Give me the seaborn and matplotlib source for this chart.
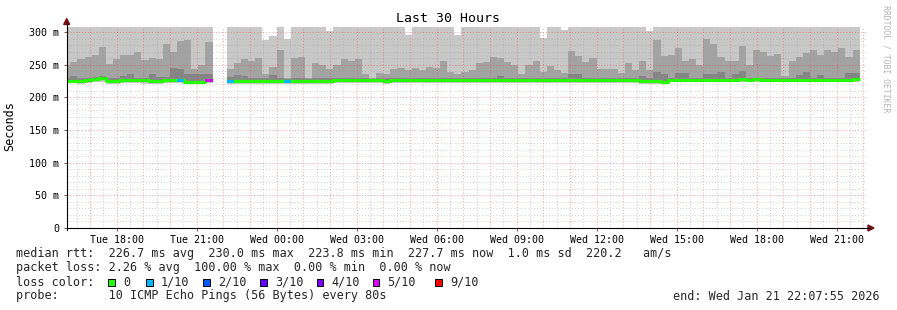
import numpy as np
import pandas as pd
import matplotlib
matplotlib.use("Agg")
import matplotlib.pyplot as plt
import matplotlib.dates as mdates
import seaborn as sns
from matplotlib.patches import Rectangle, Polygon
from matplotlib.lines import Line2D

# ---------------- data ----------------
nan = np.nan
bin_start = pd.date_range("2026-01-20 16:00", periods=112, freq="16min")
bin_minutes = 16
t_end = pd.Timestamp("2026-01-21 22:07:55")
t_start = t_end - pd.Timedelta(hours=30)

median_ms = [
    225.5, 225.5, 225.5, 227.0, 228.5, 229.8, 225.0, 225.0, 226.0, 226.0,
    226.0, 226.0, 225.0, 225.0, 226.5, 226.5, 226.0, 223.5, 223.5, 223.5,
    226.5, nan, nan, 224.5, 225.5, 225.5, 225.0, 225.5, 225.5, 225.5,
    225.5, 225.0, 225.5, 225.5, 225.5, 225.0, 225.5, 225.5, 226.0, 226.0,
    226.0, 226.0, 226.5, 226.5, 226.0, 225.5, 226.0, 226.0, 226.0, 226.0,
    226.0, 226.0, 226.0, 226.0, 226.5, 226.5, 226.0, 226.5, 226.5, 226.5,
    226.5, 226.5, 226.5, 226.5, 226.5, 226.5, 226.5, 226.5, 226.5, 226.5,
    226.5, 226.5, 226.5, 226.5, 226.5, 226.5, 226.5, 226.5, 226.5, 226.5,
    226.0, 224.5, 224.5, 224.5, 223.8, 227.0, 227.0, 227.0, 227.0, 227.0,
    227.0, 227.0, 227.0, 227.0, 227.0, 227.5, 227.0, 228.2, 227.0, 227.0,
    227.0, 227.0, 227.0, 227.0, 227.0, 227.0, 227.0, 227.0, 227.0, 227.0,
    227.0, 227.7,
]

loss_tenths = [0] * 112
for k, v in {16: 1, 20: 5, 21: 10, 22: 10, 23: 1, 31: 1}.items():
    loss_tenths[k] = v

mid_top_ms = [
    250, 254, 258, 262, 265, 277, 251, 259, 265, 265,
    270, 257, 260, 258, 281, 269, 286, 288, 244, 249,
    285, nan, nan, 244, 252, 258, 255, 260, 236, 246,
    273, 230, 260, 262, 230, 252, 249, 244, 249, 259,
    256, 259, 236, 229, 238, 235, 244, 245, 242, 245,
    242, 246, 245, 256, 239, 236, 239, 242, 252, 254,
    262, 260, 254, 250, 235, 250, 256, 239, 248, 242,
    237, 271, 264, 254, 260, 244, 244, 244, 238, 252,
    242, 256, 242, 288, 264, 265, 276, 256, 258, 250,
    289, 281, 262, 256, 256, 279, 249, 272, 269, 264,
    266, 233, 256, 262, 268, 272, 265, 272, 269, 276,
    262, 272,
]

light_top_ms = [315] * 112
for k, v in {21: nan, 22: nan, 28: 287, 29: 294, 31: 289, 37: 301, 48: 296,
             55: 296, 67: 291, 70: 303, 82: 302}.items():
    light_top_ms[k] = v

dark_top_ms = [
    229, 233, 229, 230, 231, 232, 229, 229, 233, 236,
    230, 229, 236, 231, 231, 245, 243, 236, 236, 236,
    236, nan, nan, 231, 234, 232, 229, 229, 229, 234,
    229, 228, 230, 230, 228, 230, 229, 229, 229, 230,
    230, 230, 229, 228, 229, 229, 229, 229, 229, 229,
    229, 229, 229, 230, 229, 229, 229, 229, 229, 229,
    229, 232, 229, 230, 229, 229, 229, 229, 229, 229,
    229, 235, 235, 229, 229, 229, 229, 229, 229, 230,
    229, 232, 229, 239, 235, 229, 238, 238, 229, 229,
    235, 235, 239, 229, 235, 241, 229, 229, 229, 229,
    229, 229, 229, 234, 239, 229, 234, 229, 229, 229,
    238, 238,
]

smoke_low_ms = [
    222, 222, 221, 222, 223, 224, 221, 221, 222, 222,
    222, 221, 221, 221, 222, 222, 222, 220, 220, 220,
    222, nan, nan, 221, 221, 221, 221, 221, 221, 221,
    221, 221, 221, 221, 221, 221, 221, 221, 222, 222,
    222, 222, 222, 222, 222, 221, 222, 222, 222, 222,
    222, 222, 222, 222, 222, 222, 222, 222, 222, 222,
    222, 222, 222, 222, 222, 222, 222, 222, 222, 222,
    222, 222, 222, 222, 222, 222, 222, 222, 222, 222,
    222, 221, 221, 221, 220, 223, 223, 223, 223, 223,
    223, 223, 223, 223, 223, 223, 223, 224, 223, 223,
    223, 223, 223, 223, 223, 223, 223, 223, 223, 223,
    223, 223,
]

loss_colors = {0: "#26ff00", 1: "#00b8ff", 2: "#0059ff", 3: "#5e00ff",
               4: "#7e00ff", 5: "#dd00ff", 9: "#ff0000"}
legend_labels = ["0", "1/10", "2/10", "3/10", "4/10", "5/10", "9/10"]
legend_keys = [0, 1, 2, 3, 4, 5, 9]

y_ticks = [0, 50, 100, 150, 200, 250, 300]
y_tick_labels = ["0", "50 m", "100 m", "150 m", "200 m", "250 m", "300 m"]

# ---------------- figure ----------------
W, H = 897, 310
sns.set_theme(style="white")
plt.rcParams["font.family"] = ["DejaVu Sans Mono", "DejaVu Sans"]
fig = plt.figure(figsize=(W / 100, H / 100), dpi=100)
fig.patch.set_facecolor("white")

px_per_ms = (228 - 32) / 300.0
ymax = 307
ax_left, ax_right, ax_bottom = 66.7, 866.7, 228
ax = fig.add_axes([ax_left / W, (H - ax_bottom) / H, (ax_right - ax_left) / W,
                   ymax * px_per_ms / H])
ax.set_facecolor("white")

x0 = mdates.date2num(bin_start.to_pydatetime())
bw = bin_minutes / 1440.0
med = np.array(median_ms, float)
low = np.array(smoke_low_ms, float)
ltop = np.minimum(np.array(light_top_ms, float), ymax + 5)
mtop = np.array(mid_top_ms, float)
dtop = np.array(dark_top_ms, float)

ax.bar(x0, ltop - low, bottom=low, width=bw, align="edge", color="#c8c8c8",
       linewidth=0, zorder=1)
ax.bar(x0, mtop - med, bottom=med, width=bw, align="edge", color="#a3a3a3",
       linewidth=0, zorder=1.1)
ax.bar(x0, dtop - med, bottom=med, width=bw, align="edge", color="#858585",
       linewidth=0, zorder=1.2)

# median line (green), broken at missing bins
rows = []
seg = 0
prev_ok = False
for i in range(len(med)):
    ok = not np.isnan(med[i])
    if ok:
        if not prev_ok:
            seg += 1
        rows.append((x0[i], med[i], seg))
        last_ok_next = (i + 1 < len(med)) and not np.isnan(med[i + 1])
        if not last_ok_next:
            rows.append((x0[i] + bw, med[i], seg))
    prev_ok = ok
df_med = pd.DataFrame(rows, columns=["t", "ms", "seg"])
sns.lineplot(data=df_med, x="t", y="ms", units="seg", estimator=None,
             drawstyle="steps-post", color=loss_colors[0], linewidth=2.3,
             solid_capstyle="butt", ax=ax, legend=False, zorder=4)

band = 3.0 / px_per_ms
for i, l in enumerate(loss_tenths):
    if 0 < l < 10 and not np.isnan(med[i]):
        key = l if l in loss_colors else 9
        ax.bar(x0[i], band, bottom=med[i] - band / 2, width=bw, align="edge",
               color=loss_colors[key], linewidth=0, zorder=5)

# grid
tx0 = mdates.date2num(t_start.to_pydatetime())
tx1 = mdates.date2num(t_end.to_pydatetime())
hours = mdates.date2num(pd.date_range("2026-01-20 17:00", "2026-01-21 22:00", freq="h").to_pydatetime())
halves = mdates.date2num(pd.date_range("2026-01-20 16:30", "2026-01-21 21:30", freq="h").to_pydatetime())
ax.vlines(halves, 0, ymax, colors="#9a9a9a", alpha=0.45, linewidth=0.7,
          linestyles=(0, (1, 2)), zorder=3)
ax.vlines(hours, 0, ymax, colors="#ff3030", alpha=0.45, linewidth=0.7,
          linestyles=(0, (1, 2)), zorder=3)
minor_y = [v for v in range(10, 301, 10) if v % 50 != 0]
major_y = [v for v in range(50, 301, 50)]
ax.hlines(minor_y, tx0, tx1, colors="#9a9a9a", alpha=0.45, linewidth=0.7,
          linestyles=(0, (1, 2)), zorder=3)
ax.hlines(major_y, tx0, tx1, colors="#ff3030", alpha=0.45, linewidth=0.7,
          linestyles=(0, (1, 2)), zorder=3)

ax.set_xlim(tx0, tx1)
ax.set_ylim(0, ymax)
for s in ax.spines.values():
    s.set_visible(False)
ax.grid(False)
ax.set_xlabel("")
ax.set_ylabel("")

xt = mdates.date2num(pd.date_range("2026-01-20 18:00", "2026-01-21 21:00", freq="3h").to_pydatetime())
ax.set_xticks(xt)
ax.xaxis.set_major_formatter(mdates.DateFormatter("%a %H:%M"))
ax.set_yticks(y_ticks)
ax.set_yticklabels(y_tick_labels)
ax.tick_params(axis="x", length=2, width=0.7, color="#c04040", pad=3.3,
               labelsize=7.2, labelcolor="black", bottom=True)
ax.tick_params(axis="y", length=2.5, width=0.7, color="#606060", pad=3.0,
               labelsize=7.2, labelcolor="black", left=True)
for lab in ax.get_xticklabels() + ax.get_yticklabels():
    lab.set_fontfamily("DejaVu Sans Mono")

# ---------------- axes lines & arrows (figure pixel coords) ----------------
def fx(x):
    return x / W

def fy(y):
    return 1 - y / H

fig.add_artist(Line2D([fx(ax_left), fx(870)], [fy(228), fy(228)], color="black", lw=0.8))
fig.add_artist(Line2D([fx(ax_left), fx(ax_left)], [fy(230), fy(23)], color="black", lw=0.8))
arrow_c = "#7a1010"
fig.add_artist(Polygon([[fx(ax_left - 3), fy(24.5)], [fx(ax_left + 3), fy(24.5)],
                        [fx(ax_left), fy(18.5)]], closed=True, color=arrow_c))
fig.add_artist(Polygon([[fx(868), fy(225)], [fx(868), fy(231)], [fx(874), fy(228)]],
                       closed=True, color=arrow_c))

# ---------------- texts ----------------
mono = "DejaVu Sans Mono"
fig.text(fx(448), fy(19), "Last 30 Hours", ha="center", va="center", fontsize=9.5,
         family=mono, color="black")
fig.text(fx(10), fy(126), "Seconds", ha="center", va="center", rotation=90,
         fontsize=8.5, family=mono, color="black")
fig.text(fx(886), fy(5), "RRDTOOL / TOBI OETIKER", ha="center", va="top",
         rotation=270, fontsize=5.9, family=mono, color="#b4b4b4")

lx = fx(16)
fs = 8.5
fig.text(lx, fy(254), "median rtt:  226.7 ms avg  230.0 ms max  223.8 ms min  227.7 ms now  1.0 ms sd  220.2   am/s",
         ha="left", va="center", fontsize=fs, family=mono)
fig.text(lx, fy(268), "packet loss: 2.26 % avg  100.00 % max  0.00 % min  0.00 % now",
         ha="left", va="center", fontsize=fs, family=mono)
fig.text(lx, fy(282), "loss color:", ha="left", va="center", fontsize=fs, family=mono)
box_x = [108.3, 146.0, 203.3, 260.0, 316.7, 372.7, 435.0]
lab_x = [123.3, 160.7, 218.3, 275.0, 331.7, 387.3, 450.0]
for key, lab, bx, tx in zip(legend_keys, legend_labels, box_x, lab_x):
    fig.add_artist(Rectangle((fx(bx), fy(285.5)), 6.7 / W, 7 / H, facecolor=loss_colors[key],
                             edgecolor="black", linewidth=0.7))
    fig.text(fx(tx), fy(282), lab, ha="left", va="center", fontsize=fs, family=mono)
fig.text(lx, fy(296), "probe:       10 ICMP Echo Pings (56 Bytes) every 80s",
         ha="left", va="center", fontsize=fs, family=mono)
fig.text(fx(880), fy(296), "end: Wed Jan 21 22:07:55 2026", ha="right", va="center",
         fontsize=fs, family=mono)

fig.savefig("out.png", dpi=100, facecolor="white")
